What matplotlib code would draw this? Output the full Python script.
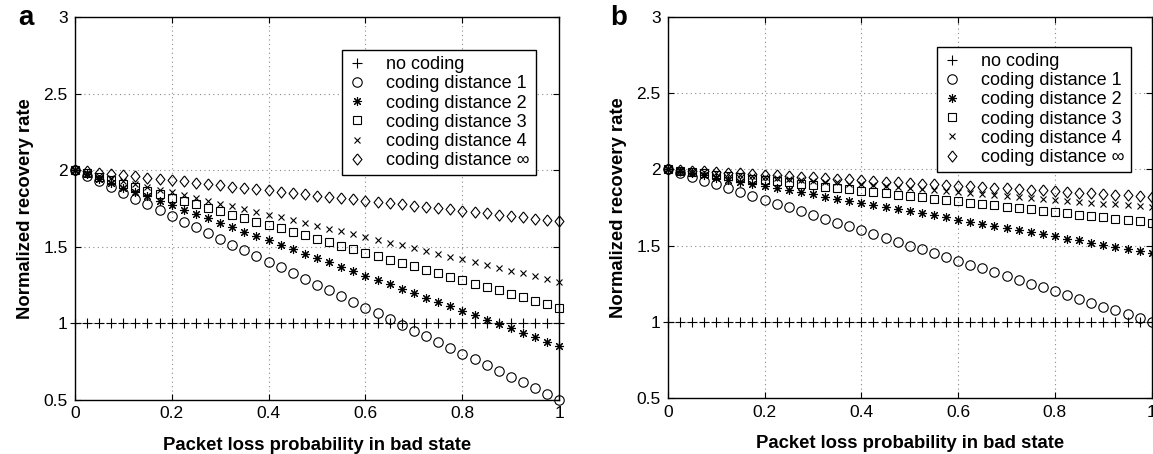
"""
Normalized recovery rate vs. packet loss probability in the bad state,
for several coding distances (two scenarios, panels a and b).
"""

import matplotlib
matplotlib.use('Agg')
import matplotlib.pyplot as plt

# Packet loss probability in bad state (41 points).
loss_prob = [0.000, 0.025, 0.050, 0.075, 0.100, 0.125, 0.150, 0.175, 0.200, 0.225,
             0.250, 0.275, 0.300, 0.325, 0.350, 0.375, 0.400, 0.425, 0.450, 0.475,
             0.500, 0.525, 0.550, 0.575, 0.600, 0.625, 0.650, 0.675, 0.700, 0.725,
             0.750, 0.775, 0.800, 0.825, 0.850, 0.875, 0.900, 0.925, 0.950, 0.975,
             1.000]

no_coding = [1.0, 1.0, 1.0, 1.0, 1.0, 1.0, 1.0, 1.0, 1.0, 1.0,
             1.0, 1.0, 1.0, 1.0, 1.0, 1.0, 1.0, 1.0, 1.0, 1.0,
             1.0, 1.0, 1.0, 1.0, 1.0, 1.0, 1.0, 1.0, 1.0, 1.0,
             1.0, 1.0, 1.0, 1.0, 1.0, 1.0, 1.0, 1.0, 1.0, 1.0,
             1.0]

# Panel a
dist1_a = [2.000, 1.963, 1.925, 1.888, 1.850, 1.813, 1.775, 1.738, 1.700, 1.663,
           1.625, 1.588, 1.550, 1.513, 1.475, 1.438, 1.400, 1.363, 1.325, 1.288,
           1.250, 1.213, 1.175, 1.138, 1.100, 1.063, 1.025, 0.988, 0.950, 0.913,
           0.875, 0.838, 0.800, 0.763, 0.725, 0.688, 0.650, 0.613, 0.575, 0.538,
           0.500]
dist2_a = [2.000, 1.971, 1.943, 1.914, 1.885, 1.856, 1.828, 1.799, 1.770, 1.741,
           1.713, 1.684, 1.655, 1.626, 1.598, 1.569, 1.540, 1.511, 1.483, 1.454,
           1.425, 1.396, 1.368, 1.339, 1.310, 1.281, 1.253, 1.224, 1.195, 1.166,
           1.138, 1.109, 1.080, 1.051, 1.023, 0.994, 0.965, 0.936, 0.908, 0.879,
           0.850]
dist3_a = [2.000, 1.978, 1.955, 1.933, 1.910, 1.888, 1.865, 1.843, 1.820, 1.798,
           1.775, 1.753, 1.730, 1.708, 1.685, 1.663, 1.640, 1.618, 1.595, 1.573,
           1.550, 1.528, 1.505, 1.483, 1.460, 1.438, 1.415, 1.393, 1.370, 1.348,
           1.325, 1.303, 1.280, 1.258, 1.235, 1.213, 1.190, 1.168, 1.145, 1.123,
           1.100]
dist4_a = [2.000, 1.982, 1.964, 1.945, 1.927, 1.909, 1.891, 1.872, 1.854, 1.836,
           1.818, 1.799, 1.781, 1.763, 1.745, 1.726, 1.708, 1.690, 1.672, 1.653,
           1.635, 1.617, 1.599, 1.580, 1.562, 1.544, 1.526, 1.507, 1.489, 1.471,
           1.453, 1.434, 1.416, 1.398, 1.380, 1.361, 1.343, 1.325, 1.307, 1.288,
           1.270]
distinf_a = [2.000, 1.992, 1.983, 1.975, 1.967, 1.958, 1.950, 1.942, 1.933, 1.925,
             1.917, 1.908, 1.900, 1.892, 1.883, 1.875, 1.867, 1.858, 1.850, 1.842,
             1.833, 1.825, 1.817, 1.808, 1.800, 1.792, 1.783, 1.775, 1.767, 1.758,
             1.750, 1.742, 1.733, 1.725, 1.717, 1.708, 1.700, 1.692, 1.683, 1.675,
             1.667]

# Panel b
dist1_b = [2.000, 1.975, 1.950, 1.925, 1.900, 1.875, 1.850, 1.825, 1.800, 1.775,
           1.750, 1.725, 1.700, 1.675, 1.650, 1.625, 1.600, 1.575, 1.550, 1.525,
           1.500, 1.475, 1.450, 1.425, 1.400, 1.375, 1.350, 1.325, 1.300, 1.275,
           1.250, 1.225, 1.200, 1.175, 1.150, 1.125, 1.100, 1.075, 1.050, 1.025,
           1.000]
dist2_b = [2.000, 1.986, 1.973, 1.959, 1.945, 1.931, 1.918, 1.904, 1.890, 1.876,
           1.863, 1.849, 1.835, 1.821, 1.808, 1.794, 1.780, 1.766, 1.753, 1.739,
           1.725, 1.711, 1.698, 1.684, 1.670, 1.656, 1.643, 1.629, 1.615, 1.601,
           1.588, 1.574, 1.560, 1.546, 1.533, 1.519, 1.505, 1.491, 1.478, 1.464,
           1.450]
dist3_b = [2.000, 1.991, 1.983, 1.974, 1.965, 1.956, 1.948, 1.939, 1.930, 1.921,
           1.913, 1.904, 1.895, 1.886, 1.878, 1.869, 1.860, 1.851, 1.843, 1.834,
           1.825, 1.816, 1.808, 1.799, 1.790, 1.781, 1.773, 1.764, 1.755, 1.746,
           1.738, 1.729, 1.720, 1.711, 1.703, 1.694, 1.685, 1.676, 1.668, 1.659,
           1.650]
dist4_b = [2.000, 1.994, 1.988, 1.981, 1.975, 1.969, 1.963, 1.956, 1.950, 1.944,
           1.938, 1.931, 1.925, 1.919, 1.913, 1.906, 1.900, 1.894, 1.888, 1.881,
           1.875, 1.869, 1.863, 1.856, 1.850, 1.844, 1.838, 1.831, 1.825, 1.819,
           1.813, 1.806, 1.800, 1.794, 1.788, 1.781, 1.775, 1.769, 1.763, 1.756,
           1.750]
distinf_b = [2.000, 1.996, 1.991, 1.987, 1.982, 1.978, 1.973, 1.969, 1.964, 1.960,
             1.955, 1.951, 1.946, 1.942, 1.937, 1.933, 1.928, 1.924, 1.919, 1.915,
             1.910, 1.906, 1.901, 1.897, 1.892, 1.888, 1.883, 1.879, 1.874, 1.870,
             1.865, 1.861, 1.856, 1.852, 1.847, 1.843, 1.838, 1.834, 1.829, 1.825,
             1.820]

labels = ['no coding', 'coding distance 1', 'coding distance 2',
          'coding distance 3', 'coding distance 4', 'coding distance \u221e']
x_ticks = [0, 0.2, 0.4, 0.6, 0.8, 1]
x_ticklabels = ['0', '0.2', '0.4', '0.6', '0.8', '1']
y_ticks = [0.5, 1, 1.5, 2, 2.5, 3]
y_ticklabels = ['0.5', '1', '1.5', '2', '2.5', '3']

# Pretty plot configuration.
plt.rcParams['font.family'] = ['Liberation Sans', 'DejaVu Sans']
plt.rcParams['font.size'] = 12
plt.rcParams['xtick.direction'] = 'in'
plt.rcParams['ytick.direction'] = 'in'
plt.rcParams['xtick.top'] = True
plt.rcParams['ytick.right'] = True

# matlab-like diamond, a bit wider than matplotlib's thin diamond
diamond = [(0, 1), (0.8, 0), (0, -1), (-0.8, 0), (0, 1)]
# marker, size for each series
styles = [('+', 7.0), ('o', 6.8), ((8, 2, 0), 6.5), ('s', 5.5), ('x', 4.6), (diamond, 8.0)]


def draw_panel(ax, series, legend_anchor):
    for (marker, size), y, label in zip(styles, series, labels):
        ax.plot(loss_prob, y, linestyle='none', marker=marker, markersize=size,
                markerfacecolor='none', markeredgecolor='black', markeredgewidth=0.8,
                color='black', label=label, clip_on=False)
    ax.set_xlim([0, 1])
    ax.set_ylim([0.5, 3])
    ax.set_xticks(x_ticks)
    ax.set_xticklabels(x_ticklabels)
    ax.set_yticks(y_ticks)
    ax.set_yticklabels(y_ticklabels)
    ax.tick_params(length=4, width=0.8, labelsize=12.5, pad=5)
    ax.grid(True, linestyle=(0, (1, 3)), color='#8a8a8a', linewidth=0.8)
    for spine in ax.spines.values():
        spine.set_linewidth(1.0)
    ax.set_xlabel('Packet loss probability in bad state', fontweight='bold', fontsize=13.3, labelpad=11)
    ax.set_ylabel('Normalized recovery rate', fontweight='bold', fontsize=13.3, labelpad=7)
    leg = ax.legend(loc='upper right', bbox_to_anchor=legend_anchor, numpoints=1,
                    fancybox=False, framealpha=1, edgecolor='black', fontsize=13,
                    handlelength=1.0, handletextpad=1.1, labelspacing=0.12,
                    borderpad=0.35, borderaxespad=0)
    leg.get_frame().set_linewidth(1.0)


fig = plt.figure(figsize=(11.53, 4.54), dpi=100)
ax_a = fig.add_axes([0.0648, 0.120, 0.4203, 0.8425])
ax_b = fig.add_axes([0.5791, 0.123, 0.4198, 0.8405])

draw_panel(ax_a, [no_coding, dist1_a, dist2_a, dist3_a, dist4_a, distinf_a], (0.952, 0.914))
draw_panel(ax_b, [no_coding, dist1_b, dist2_b, dist3_b, dist4_b, distinf_b], (0.957, 0.921))

fig.text(0.016, 0.945, 'a', fontsize=20, fontweight='bold')
fig.text(0.529, 0.945, 'b', fontsize=20, fontweight='bold')

fig.savefig('out.png', dpi=100)
